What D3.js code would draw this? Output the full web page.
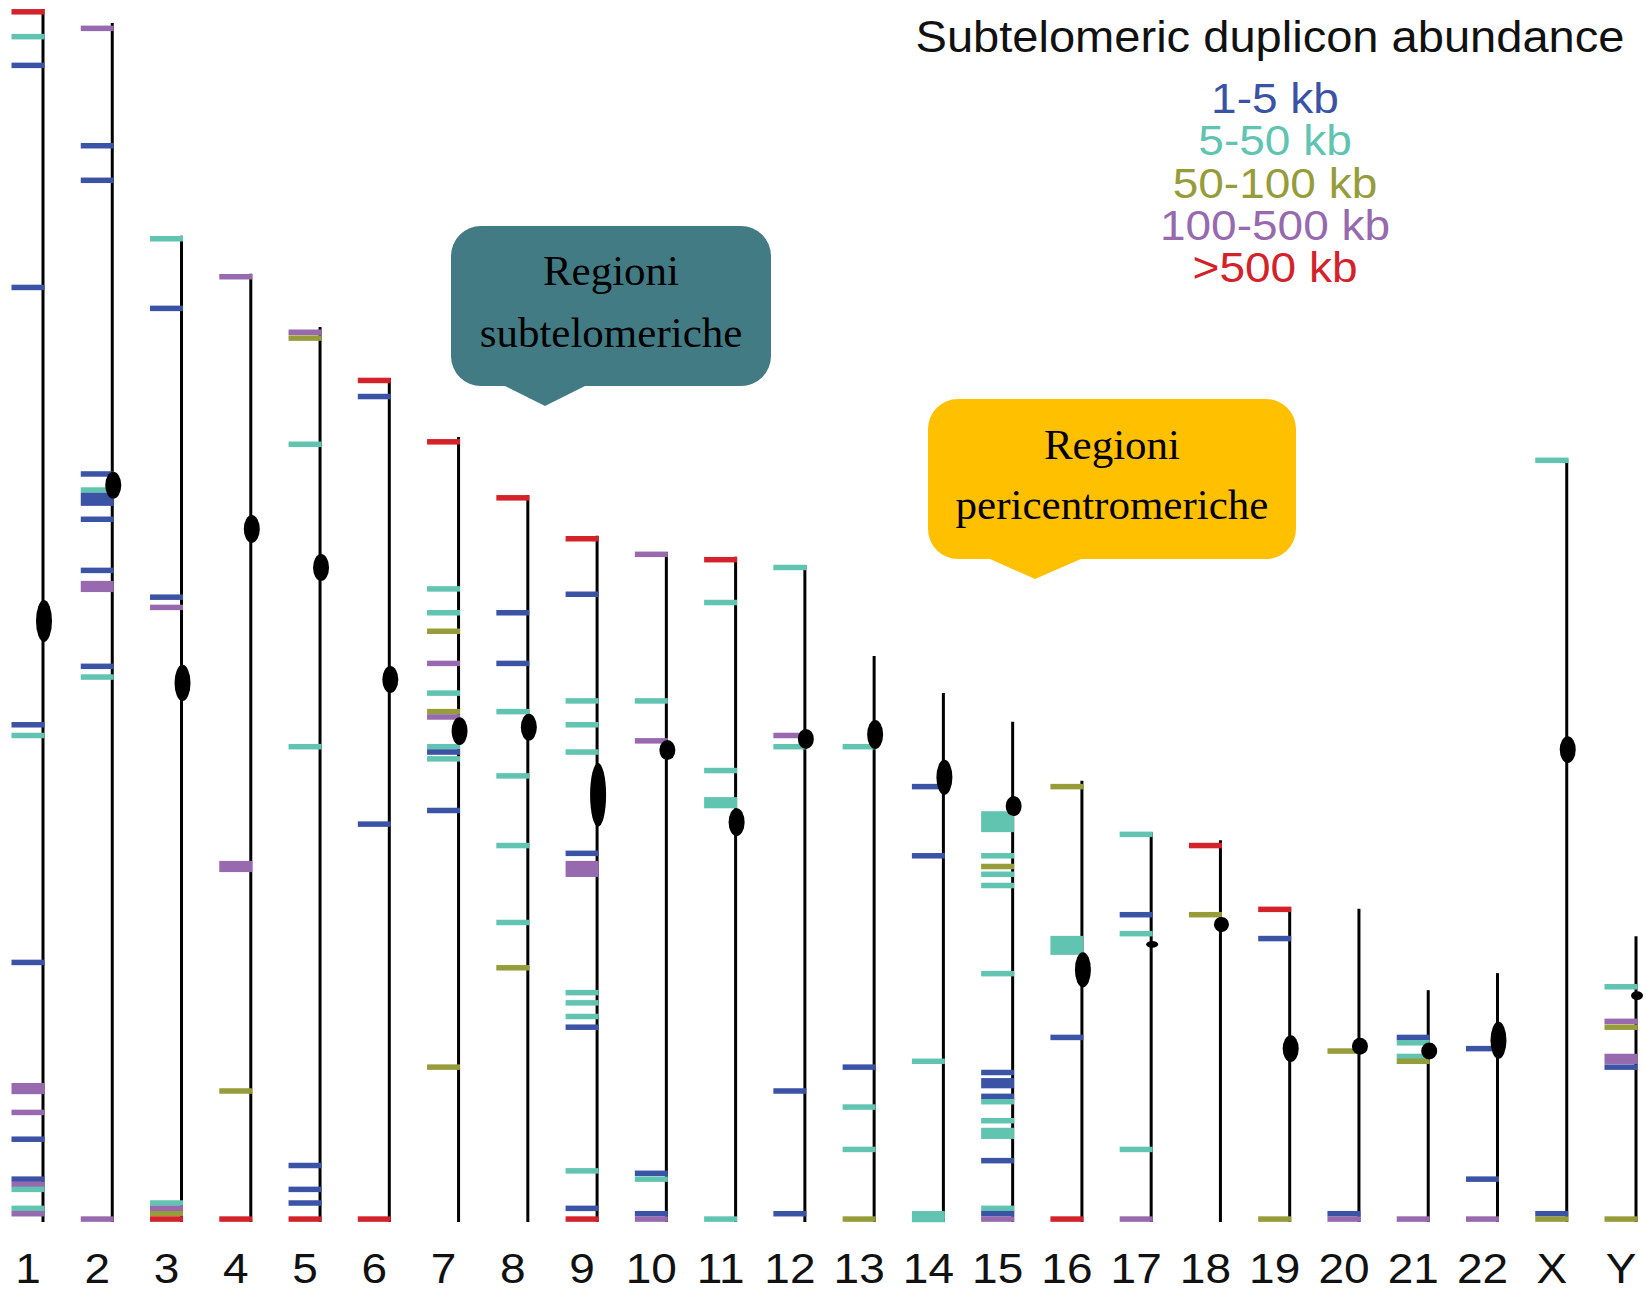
<!DOCTYPE html>
<html>
<head>
<meta charset="utf-8">
<script src="https://cdn.jsdelivr.net/npm/d3@7"></script>
<style>
  body { margin: 0; background: #fff; }
  svg { display: block; }
</style>
</head>
<body>
<div id="chart"></div>
<script>
// chromosomes and their drawn length (Mb, measured from the q-ter at the bottom)
const chromosomes = ["1","2","3","4","5","6","7","8","9","10","11","12","13","14","15","16","17","18","19","20","21","22","X","Y"];
const lengthsMb = [249.1, 246.2, 202.5, 194.7, 183.8, 173.3, 161.2, 149.3, 140.9, 137.6, 136.6, 134.9, 116.2, 108.6, 102.7, 90.6, 80.1, 78.4, 64.7, 64.3, 47.6, 51.1, 156.9, 58.7];
const centromereMb = [123.4, 151.3, 110.7, 142.3, 134.4, 111.4, 100.8, 101.6, 87.7, 96.9, 82.1, 99.2, 100.1, 91.3, 85.4, 51.8, 57.0, 61.1, 35.6, 36.1, 35.1, 37.3, 97.0, 46.5];
const centromereSpanMb = [8.6, 5.5, 7.4, 5.7, 5.5, 5.5, 5.7, 5.5, 13.1, 4.1, 5.7, 4.1, 6.0, 7.2, 4.1, 7.2, 1.4, 3.1, 5.5, 3.5, 3.5, 7.6, 5.5, 1.8];

// size classes: 0 = 1-5 kb, 1 = 5-50 kb, 2 = 50-100 kb, 3 = 100-500 kb, 4 = >500 kb
const sizeClasses = ["1-5 kb", "5-50 kb", "50-100 kb", "100-500 kb", ">500 kb"];

// [chromosome, position Mb, class, span Mb (only for wide blocks)]
const duplicons = [
  ["1",248.5,4],["1",243.4,1],["1",237.5,0],["1",191.9,0],["1",102.1,0],["1",99.9,1],["1",53.3,0],["1",27.4,3,2.3],["1",22.5,3],["1",17.0,0],["1",8.8,0],["1",7.7,3],["1",6.7,1],["1",2.8,1],["1",1.7,3],
  ["2",245.1,3],["2",221.0,0],["2",213.9,0],["2",153.6,0],["2",150.3,1],["2",148.4,0,2.7],["2",144.3,0],["2",133.8,0],["2",130.5,3,2.3],["2",114.1,0],["2",111.9,1],["2",0.6,3],
  ["3",201.9,1],["3",187.6,0],["3",128.3,0],["3",126.2,3],["3",3.9,1],["3",2.8,3],["3",1.7,2],["3",0.6,4],
  ["4",194.1,3],["4",73.0,3,2.3],["4",26.9,2],["4",0.6,4],
  ["5",182.7,3],["5",181.5,2],["5",159.7,1],["5",97.6,1],["5",11.6,0],["5",6.7,0],["5",3.9,0],["5",0.6,4],
  ["6",172.8,4],["6",169.5,0],["6",81.7,0],["6",0.6,4],
  ["7",160.2,4],["7",130.0,1],["7",125.1,1],["7",121.3,2],["7",114.7,3],["7",108.6,1],["7",104.8,2],["7",103.7,3],["7",97.6,1],["7",96.5,0],["7",95.1,1],["7",84.5,0],["7",31.8,2],
  ["8",148.7,4],["8",125.1,0],["8",114.7,0],["8",104.8,1],["8",91.6,1],["8",77.3,1],["8",61.5,1],["8",52.2,2],
  ["9",140.3,4],["9",128.9,0],["9",107.0,1],["9",102.1,1],["9",96.5,1],["9",75.7,0],["9",72.5,3,3.3],["9",47.1,1],["9",45.0,1],["9",42.2,1],["9",40.0,0],["9",10.5,1],["9",2.8,0],["9",0.6,4],
  ["10",137.1,3],["10",107.0,1],["10",98.8,3],["10",10.0,0],["10",8.8,1],["10",1.7,0],["10",0.6,3],
  ["11",136.0,4],["11",127.2,1],["11",92.7,1],["11",86.1,1,2.3],["11",0.6,1],
  ["12",134.4,1],["12",99.9,3],["12",97.6,1],["12",26.9,0],["12",1.7,0],
  ["13",97.6,1],["13",31.8,0],["13",23.6,1],["13",14.9,1],["13",0.6,2],
  ["14",89.4,0],["14",75.2,0],["14",33.0,1],["14",1.1,1,2.3],
  ["15",82.2,1,4.3],["15",75.2,1],["15",73.0,2],["15",71.4,1],["15",69.1,1],["15",51.0,1],["15",30.7,0],["15",28.5,0,2.1],["15",25.8,0],["15",24.7,1],["15",20.8,1],["15",18.2,1,2.3],["15",12.6,0],["15",2.8,1],["15",1.7,0],["15",0.6,3],
  ["16",89.4,2],["16",56.8,1,3.9],["16",37.9,0],["16",0.6,4],
  ["17",79.6,1],["17",63.1,0],["17",59.2,1],["17",14.9,1],["17",0.6,3],
  ["18",77.3,4],["18",63.1,2],
  ["19",64.2,4],["19",58.2,0],["19",0.6,2],
  ["20",35.1,2],["20",1.7,0],["20",0.6,3],
  ["21",37.9,0],["21",36.8,1],["21",34.0,1],["21",33.0,2],["21",0.6,3],
  ["22",35.6,0],["22",8.8,0],["22",0.6,3],
  ["X",156.4,1],["X",1.7,0],["X",0.6,2],
  ["Y",48.3,1],["Y",41.2,3],["Y",40.0,2],["Y",33.5,3,2.1],["Y",31.8,0],["Y",0.6,2]
];

const legendTitle = "Subtelomeric duplicon abundance";
const calloutTexts = [["Regioni", "subtelomeriche"], ["Regioni", "pericentromeriche"]];

const width = 1646, height = 1290;
const colors = ["#3b53a5", "#60c4b1", "#979c3b", "#9769ae", "#d32229"];
const sans = "'Liberation Sans', Arial, sans-serif";
const serif = "'Liberation Serif', 'Times New Roman', serif";

const svg = d3.select("#chart").append("svg")
    .attr("width", width)
    .attr("height", height);

svg.append("rect").attr("width", width).attr("height", height).attr("fill", "#fff");

const x = d3.scalePoint()
    .domain(chromosomes)
    .range([43, 1636]);

const y = d3.scaleLinear()
    .domain([0, 250])
    .range([1222, 1222 - 250 * 4.87]);

// chromosome lines
svg.append("g")
  .selectAll("line")
  .data(chromosomes)
  .join("line")
    .attr("x1", d => x(d))
    .attr("x2", d => x(d))
    .attr("y1", y(0))
    .attr("y2", (d, i) => y(lengthsMb[i]))
    .attr("stroke", "#000")
    .attr("stroke-width", 3);

// duplicon ticks
svg.append("g")
  .selectAll("rect")
  .data(duplicons)
  .join("rect")
    .attr("x", d => x(d[0]) - 31.5)
    .attr("width", 33)
    .attr("y", d => {
        const h = d[3] ? y(0) - y(d[3]) : 5.5;
        return y(d[1]) - h / 2;
    })
    .attr("height", d => d[3] ? y(0) - y(d[3]) : 5.5)
    .attr("fill", d => colors[d[2]]);

// centromeres
svg.append("g")
  .selectAll("ellipse")
  .data(chromosomes)
  .join("ellipse")
    .attr("cx", d => x(d) + 1)
    .attr("cy", (d, i) => y(centromereMb[i]))
    .attr("rx", (d, i) => {
        const ry = (y(0) - y(centromereSpanMb[i])) / 2;
        return Math.min(8, Math.max(6, ry));
    })
    .attr("ry", (d, i) => (y(0) - y(centromereSpanMb[i])) / 2)
    .attr("fill", "#000");

// chromosome labels
svg.append("g")
  .selectAll("text")
  .data(chromosomes)
  .join("text")
    .attr("transform", d => `translate(${x(d) - 15},1283) scale(1.07,1)`)
    .attr("text-anchor", "middle")
    .attr("font-family", sans)
    .attr("font-size", 43)
    .attr("fill", "#111")
    .text(d => d);

// legend
const legend = svg.append("g");
legend.append("text")
    .attr("transform", "translate(1270,52) scale(1.07,1)")
    .attr("text-anchor", "middle")
    .attr("font-family", sans)
    .attr("font-size", 44)
    .attr("fill", "#111")
    .text(legendTitle);

legend.selectAll("text.item")
  .data(sizeClasses)
  .join("text")
    .attr("class", "item")
    .attr("transform", (d, i) => `translate(1275,${113 + i * 42.25}) scale(1.07,1)`)
    .attr("text-anchor", "middle")
    .attr("font-family", sans)
    .attr("font-size", 43)
    .attr("fill", (d, i) => colors[i])
    .text(d => d);

// callouts
function calloutPath(bx, by, w, h, r, p0, p1, tx, ty) {
    return `M${bx + r},${by} H${bx + w - r} A${r},${r} 0 0 1 ${bx + w},${by + r} ` +
        `V${by + h - r} A${r},${r} 0 0 1 ${bx + w - r},${by + h} H${p1} L${tx},${ty} L${p0},${by + h} ` +
        `H${bx + r} A${r},${r} 0 0 1 ${bx},${by + h - r} V${by + r} A${r},${r} 0 0 1 ${bx + r},${by} Z`;
}

const callouts = [
    { box: [451, 226, 320, 160, 30, 505, 585, 545, 406], fill: "#427b84", cx: 611, base: [285, 347] },
    { box: [928, 399, 368, 160, 30, 990, 1081, 1035, 579], fill: "#ffc000", cx: 1112, base: [459, 519] }
];

callouts.forEach((c, i) => {
    const g = svg.append("g");
    g.append("path")
        .attr("d", calloutPath(...c.box))
        .attr("fill", c.fill);
    g.selectAll("text")
      .data(calloutTexts[i])
      .join("text")
        .attr("x", c.cx)
        .attr("y", (d, j) => c.base[j])
        .attr("text-anchor", "middle")
        .attr("font-family", serif)
        .attr("font-size", 43)
        .attr("fill", "#000")
        .text(d => d);
});
</script>
</body>
</html>
